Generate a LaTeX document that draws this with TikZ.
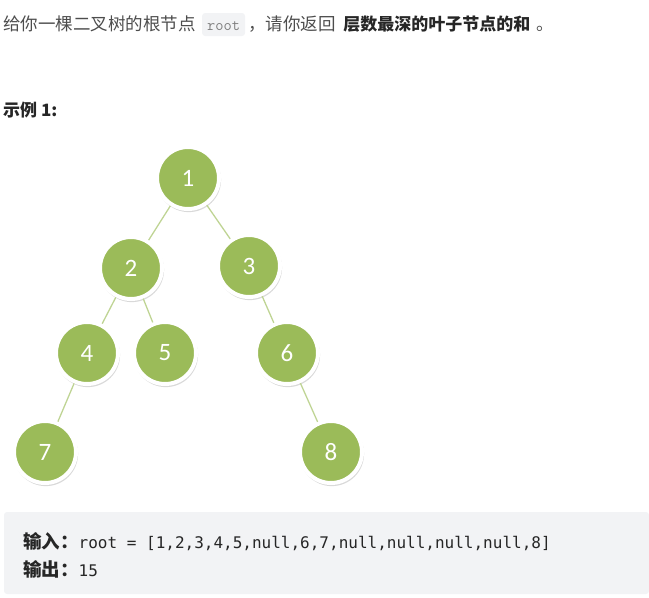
\documentclass[tikz,border=0pt]{standalone}
\usepackage{fontspec}
\setmainfont{Noto Sans CJK SC}
\setmonofont{DejaVu Sans Mono}
\newfontfamily\numfont{Carlito}
\newfontfamily\codefont{Latin Modern Mono}
\usetikzlibrary{positioning,shadows}

\definecolor{treegreen}{HTML}{9BBB59}
\definecolor{edgegreen}{HTML}{BFD494}
\definecolor{boxgray}{HTML}{F2F3F5}
\definecolor{textgray}{HTML}{4D4D4D}
\definecolor{textdark}{HTML}{262626}

\tikzset{
  tnode/.style={circle,fill=treegreen,draw=white,line width=4pt,minimum size=62pt,inner sep=0pt,
    font=\numfont\fontsize{25}{25}\selectfont,text=white,
    drop shadow={shadow xshift=0.8pt,shadow yshift=-1.8pt,shadow scale=1.04,opacity=0.3}},
  tedge/.style={draw=edgegreen,line width=1.3pt},
  plain/.style={inner sep=0pt,text=textgray,font=\fontsize{17.5}{17.5}\selectfont},
  strong/.style={inner sep=0pt,text=textdark,font=\bfseries\fontsize{17}{17}\selectfont},
  codebox/.style={fill=boxgray,rounded corners=3pt,inner xsep=5pt,inner ysep=5pt,
    text height=12pt,text depth=1pt,text=gray,font=\codefont\fontsize{16}{16}\selectfont},
  boxline/.style={inner sep=0pt,text=textdark,font=\fontsize{16}{16}\selectfont},
}
\newcommand{\cjkbig}[1]{{\bfseries\fontsize{18.5}{18.5}\selectfont #1}}

\begin{document}
\begin{tikzpicture}[x=1pt,y=-1pt]
  \useasboundingbox (0,0) rectangle (649,598);
  % question line
  \node[plain,anchor=base west] (q1) at (3,30) {给你一棵二叉树的根节点};
  \node[codebox,base right=6pt of q1] (qroot) {root};
  \node[plain,base right=3pt of qroot] (q2) {，请你返回};
  \node[strong,base right=7pt of q2] (q3) {层数最深的叶子节点的和};
  \node[plain,base right=6pt of q3] (q4) {。};
  % example title
  \node[strong,anchor=west] (title) at (3,110) {示例 1:};
  % tree
  \node[tnode] (n1) at (188,178) {1};
  \node[tnode] (n2) at (131,268) {2};
  \node[tnode] (n3) at (249,266) {3};
  \node[tnode] (n4) at (87,353) {4};
  \node[tnode] (n5) at (165,353) {5};
  \node[tnode] (n6) at (287,353) {6};
  \node[tnode] (n7) at (45,452) {7};
  \node[tnode] (n8) at (331,452) {8};
  \foreach \a/\b in {n1/n2,n1/n3,n2/n4,n2/n5,n3/n6,n4/n7,n6/n8}
    \draw[tedge] (\a) -- (\b);
  % input / output box
  \fill[boxgray,rounded corners=3pt] (4,512) rectangle (649,594);
  \node[boxline,anchor=base west] (inp) at (23,548)
    {\cjkbig{输入：}\texttt{root = [1,2,3,4,5,null,6,7,null,null,null,null,8]}};
  \node[boxline,anchor=base west] (outp) at (23,576) {\cjkbig{输出：}\texttt{15}};
\end{tikzpicture}
\end{document}
